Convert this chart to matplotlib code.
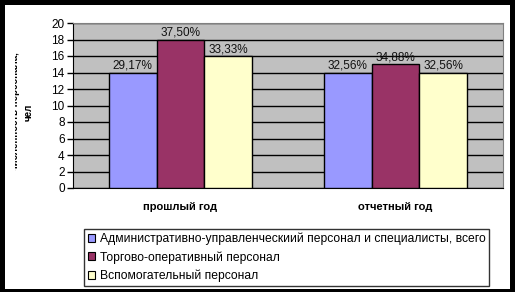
import numpy as np
import matplotlib
matplotlib.use("Agg")
import matplotlib.pyplot as plt
from matplotlib.patches import Patch, Rectangle
from matplotlib.transforms import Bbox, TransformedBbox

plt.rcParams['font.family'] = ['Liberation Sans', 'DejaVu Sans']

categories = ["прошлый год", "отчетный год"]
series_names = ["Административно-управленческиий персонал и специалисты, всего",
                "Торгово-оперативный персонал",
                "Вспомогательный персонал"]
counts = [[14, 14], [18, 15], [16, 14]]
shares = [["29,17%", "32,56%"], ["37,50%", "34,88%"], ["33,33%", "32,56%"]]
colors = ["#9999FF", "#993366", "#FFFFCC"]
yticks = [0, 2, 4, 6, 8, 10, 12, 14, 16, 18, 20]

W, H = 515, 292
fig = plt.figure(figsize=(W / 100, H / 100), dpi=100, facecolor="black")
# white inner area inside the black frame
fig.patches.append(Rectangle((5 / W, 3 / H), 505 / W, 284 / H, transform=fig.transFigure,
                             facecolor="white", edgecolor="none", zorder=-5))

ax = fig.add_axes([73 / W, 1 - 188 / H, 430 / W, 165 / H])
ax.set_facecolor("#C0C0C0")

x = np.arange(len(categories))
w = 1 / 4.5
for i in range(3):
    bars = ax.bar(x + (i - 1) * w, counts[i], w, color=colors[i], edgecolor="black",
                  linewidth=1, zorder=3)
    for b, lab in zip(bars, shares[i]):
        ax.annotate(lab, (b.get_x() + b.get_width() / 2, b.get_height()),
                    xytext=(0, 0.5), textcoords="offset points", ha="center", va="bottom",
                    fontsize=8.5, color="#111111", zorder=4)

ax.set_xlim(-0.5, 1.5)
ax.set_ylim(0, 20)
ax.set_yticks(yticks)
ax.set_yticklabels([str(t) for t in yticks], fontsize=8.5)
ax.yaxis.grid(True, color="black", linewidth=1, zorder=1)
ax.set_axisbelow(True)
ax.tick_params(axis="y", length=4, width=1, pad=2, direction="out")
ax.set_xticks(x)
ax.set_xticklabels(categories, fontsize=8, fontweight="bold")
ax.tick_params(axis="x", length=0, pad=10)
for s in ["top", "right"]:
    ax.spines[s].set_color("#808080")
for s in ["left", "bottom"]:
    ax.spines[s].set_color("black")

ylab = fig.text(22 / W, 1 - 112 / H, "численность персонала,\nчел", rotation=90,
                ha="center", va="center", fontsize=7, fontweight="bold",
                multialignment="center", linespacing=1.5)
ylab.set_clip_on(True)
ylab.set_clip_box(TransformedBbox(Bbox([[15.0 / W, 0], [1, 1]]), fig.transFigure))

handles = [Patch(facecolor=c, edgecolor="black", linewidth=0.8) for c in colors]
leg = fig.legend(handles, series_names, loc="upper left",
                 bbox_to_anchor=(84 / W, 1 - 229 / H), fontsize=8.7, frameon=True,
                 fancybox=False, edgecolor="black", handlelength=0.65, handleheight=0.65,
                 handletextpad=0.35, labelspacing=0.5, borderpad=0.3, borderaxespad=0)
leg.get_frame().set_linewidth(1)

fig.savefig("out.png", dpi=100, facecolor="black")
